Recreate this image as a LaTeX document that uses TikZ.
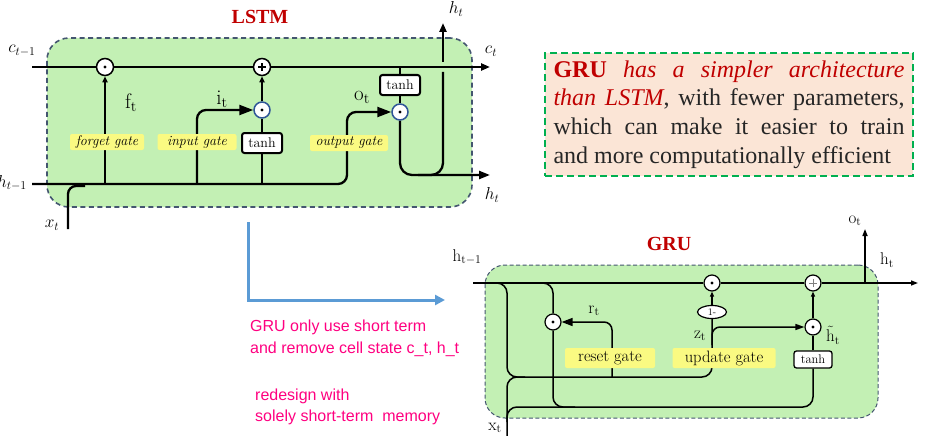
\documentclass[tikz,border=0pt]{standalone}
\usepackage{fontspec}
\newfontfamily\timesfont{Liberation Serif}
\newfontfamily\arialfont{Liberation Sans}
\usetikzlibrary{arrows.meta,shapes.geometric}
\definecolor{cellgreen}{RGB}{195,240,180}
\definecolor{boxblue}{RGB}{68,86,112}
\definecolor{circblue}{RGB}{47,85,151}
\definecolor{gateyellow}{RGB}{250,250,130}
\definecolor{titlered}{RGB}{192,0,0}
\definecolor{boxgreen}{RGB}{0,176,80}
\definecolor{peach}{RGB}{251,229,214}
\definecolor{textdark}{RGB}{38,38,38}
\definecolor{arrowblue}{RGB}{91,155,213}
\definecolor{pinktext}{RGB}{255,0,128}
\begin{document}
\begin{tikzpicture}[x=1pt,y=-1pt,
  lstmline/.style={line width=2.3pt,black,line join=round},
  gruline/.style={line width=1.5pt,black,line join=round},
  cellbox/.style={draw=boxblue,fill=cellgreen,rounded corners=22pt,inner sep=0pt},
  dotcirc/.style={circle,draw,fill=white,inner sep=0pt,minimum size=#1,
    path picture={\fill[black] (path picture bounding box.center) circle[radius=1.6pt];}},
  pluscirc/.style={circle,draw,fill=white,inner sep=0pt,minimum size=#1,
    path picture={\draw[black,line width=1.2pt]
      ([xshift=-4pt]path picture bounding box.center) -- ([xshift=4pt]path picture bounding box.center)
      ([yshift=-4pt]path picture bounding box.center) -- ([yshift=4pt]path picture bounding box.center);}},
  gpluscirc/.style={circle,draw,fill=white,inner sep=0pt,minimum size=#1,
    path picture={\draw[line width=0.8pt,gray]
      ([xshift=-4pt]path picture bounding box.center) -- ([xshift=4pt]path picture bounding box.center)
      ([yshift=-4pt]path picture bounding box.center) -- ([yshift=4pt]path picture bounding box.center);}},
  tanhbox/.style={draw,fill=white,rounded corners=2.5pt,line width=2pt,inner sep=0pt,
    minimum width=40pt,minimum height=20pt,font=\fontsize{14}{15}\selectfont},
  gtanhbox/.style={draw,fill=white,rounded corners=2.5pt,line width=1.3pt,inner sep=0pt,
    minimum width=38pt,minimum height=17pt,font=\fontsize{12.5}{13}\selectfont},
  ygate/.style={fill=gateyellow,rounded corners=2pt,inner sep=0pt,minimum height=16pt,
    font=\itshape\fontsize{14}{15}\selectfont},
  gygate/.style={fill=gateyellow,rounded corners=2pt,inner sep=0pt,minimum height=20pt,
    font=\fontsize{16.5}{17}\selectfont},
  mlab/.style={inner sep=0pt,font=\fontsize{17.5}{18}\selectfont},
  glab/.style={inner sep=0pt,font=\fontsize{17}{17}\selectfont},
  pink/.style={anchor=base west,inner sep=0pt,text=pinktext,font=\arialfont\fontsize{16}{20}\selectfont}
]
\useasboundingbox (0,0) rectangle (934,436);

% ================= LSTM =================
\node[cellbox,line width=1.6pt,dash pattern=on 5pt off 3.5pt,minimum width=425pt,minimum height=169pt] (lstmcell) at (259.5,122.5) {};
\node[inner sep=0pt,text=titlered,font=\timesfont\bfseries\fontsize{20}{20}\selectfont] (lstmtitle) at (260,16.5) {LSTM};

\node[dotcirc=17pt,line width=1.5pt] (fcirc) at (105,67) {};
\node[pluscirc=17pt,line width=1.5pt] (pcirc) at (262,67) {};
\node[dotcirc=16pt,draw=circblue,line width=1.5pt] (icirc) at (262,110) {};
\node[dotcirc=16pt,draw=circblue,line width=1.5pt] (ocirc) at (400,112) {};
\node[tanhbox] (tanha) at (262,143) {tanh};
\node[tanhbox] (tanhb) at (400,85) {tanh};

\coordinate (cin) at (32,67);
\coordinate (cout) at (490,67);
\coordinate (hin) at (32,184);
\coordinate (hout) at (490,175);
\coordinate (htop) at (443,23);
\coordinate (xin) at (68,229);
\coordinate (cbranch) at (400,67);

\draw[lstmline] (cin) -- (fcirc.west);
\draw[lstmline] (fcirc.east) -- (pcirc.west);
\draw[lstmline,-{Triangle[length=9pt,width=7pt]}] (pcirc.east) -- (cout);
\draw[lstmline,rounded corners=9pt,-{Triangle[length=14pt,width=10pt]}] (hin) -- (347,184) -- (347,112) -- (ocirc.west);
\draw[lstmline,-{Triangle[length=6pt,width=5pt]}] (105,184) -- (fcirc.south);
\draw[lstmline,rounded corners=9pt,-{Triangle[length=14pt,width=10pt]}] (197,184) -- (197,110) -- (icirc.west);
\draw[lstmline] (262,184) -- (tanha.south);
\draw[lstmline] (tanha.north) -- (icirc.south);
\draw[lstmline,-{Triangle[length=6pt,width=5pt]}] (icirc.north) -- (pcirc.south);
\draw[lstmline] (cbranch) -- (tanhb.north);
\draw[lstmline] (tanhb.south) -- (ocirc.north);
\draw[lstmline,rounded corners=12pt,-{Triangle[length=11pt,width=8pt]}] (ocirc.south) |- (hout);
\draw[lstmline,rounded corners=12pt] (418,175) -| (443,72);
\draw[lstmline,-{Triangle[length=9pt,width=7pt]}] (443,62) -- (htop);
\draw[lstmline,rounded corners=8pt] (xin) |- (85,186);

\node[ygate,minimum width=74pt] (forget) at (107,142) {forget gate};
\node[ygate,minimum width=79pt] (input) at (197,142) {input gate};
\node[ygate,minimum width=78pt] (output) at (349,143) {output gate};

\node[mlab] (lcprev) at (22,51) {$c_{t-1}$};
\node[mlab] (lcnext) at (491,51) {$c_t$};
\node[mlab] (lhtop) at (456,9) {$h_t$};
\node[mlab] (lhright) at (492,195) {$h_t$};
\node[mlab,anchor=east] (lhprev) at (27,183) {$h_{t-1}$};
\node[mlab] (lx) at (52,225) {$x_t$};
\node[mlab,font=\fontsize{21}{21}\selectfont] (lf) at (131,103) {$\mathrm{f}_\mathrm{t}$};
\node[mlab,font=\fontsize{21}{21}\selectfont] (li) at (222,99) {$\mathrm{i}_\mathrm{t}$};
\node[mlab,font=\fontsize{21}{21}\selectfont] (lo) at (362,97) {$\mathrm{o}_\mathrm{t}$};

% ================= info box =================
\node[draw=boxgreen,line width=2pt,dash pattern=on 7pt off 4pt,fill=peach,anchor=north west,
  inner xsep=8.5pt,inner ysep=7.5pt,text width=351pt,align=justify,
  font=\timesfont\fontsize{24}{28.7}\selectfont,text=textdark] (gruinfo) at (544,52)
  {{\color{titlered}\bfseries GRU} {\color{titlered}\itshape has a simpler architecture\linebreak
   than LSTM}, with fewer parameters,\linebreak
   which can make it easier to train\linebreak
   and more computationally efficient};

% ================= transition arrow and notes =================
\coordinate (bstart) at (248,222);
\coordinate (bend) at (445,300);
\draw[arrowblue,line width=3pt,-{Triangle[length=10pt,width=10pt]}] (bstart) |- (bend);
\node[pink] (p1) at (250,331) {GRU only use short term};
\node[pink] (p2) at (250,353) {and remove cell state c\_t, h\_t};
\node[pink] (p3) at (255,400) {redesign with};
\node[pink] (p4) at (255,421) {solely short-term\ \ memory};

% ================= GRU =================
\node[cellbox,line width=1pt,dash pattern=on 4pt off 2.5pt,rounded corners=20pt,minimum width=393pt,minimum height=153pt] (grucell) at (681.5,341.5) {};
\node[inner sep=0pt,text=titlered,font=\timesfont\bfseries\fontsize{20}{20}\selectfont] (grutitle) at (669,243.5) {GRU};

\node[dotcirc=16pt,line width=1.2pt] (gza) at (712,283) {};
\node[gpluscirc=16pt,line width=1.2pt] (gpl) at (813,283) {};
\node[dotcirc=16pt,line width=1.2pt] (grs) at (553,322) {};
\node[dotcirc=16pt,line width=1.2pt] (ghc) at (813,327) {};
\node[ellipse,draw,fill=white,line width=1.2pt,inner sep=0pt,minimum width=29pt,minimum height=13pt,
  font=\fontsize{10}{10}\selectfont] (one) at (712,312) {1-};
\node[gtanhbox] (tanhc) at (813,359.5) {tanh};

\coordinate (gin) at (473,283);
\coordinate (gout) at (918,283);
\coordinate (got) at (865,229);
\coordinate (gx) at (507,436);

\draw[gruline] (gin) -- (gza.west);
\draw[gruline] (gza.east) -- (gpl.west);
\draw[gruline,-{Triangle[length=7pt,width=5pt]}] (gpl.east) -- (gout);
\draw[gruline,-{Triangle[length=7pt,width=5pt]}] (865,283) -- (got);
\draw[gruline,rounded corners=10pt] (488,283) -| (507,377) -| (one.south);
\draw[gruline,rounded corners=10pt] (gx) |- (525,377);
\draw[gruline,rounded corners=10pt] (507,422) |- (813,407) -- (tanhc.south);
\draw[gruline,rounded corners=10pt] (538,283) -| (grs.north);
\draw[gruline,rounded corners=10pt] (grs.south) |- (575,407);
\draw[gruline,rounded corners=8pt,-{Triangle[length=11pt,width=8pt]}] (612,377) |- (grs.east);
\draw[gruline,rounded corners=8pt,-{Triangle[length=9pt,width=6pt]}] (712,345) |- (ghc.west);
\draw[gruline,-{Triangle[length=5pt,width=4pt]}] (one.north) -- (gza.south);
\draw[gruline] (tanhc.north) -- (ghc.south);
\draw[gruline,-{Triangle[length=5pt,width=4pt]}] (ghc.north) -- (gpl.south);

\node[gygate,minimum width=90pt] (reset) at (610,358) {reset gate};
\node[gygate,minimum width=103pt] (update) at (724,358) {update gate};

\node[glab] (ghprev) at (467,257) {$\mathrm{h}_{\mathrm{t-1}}$};
\node[glab] (gr) at (594,311) {$\mathrm{r}_\mathrm{t}$};
\node[glab] (gz) at (700,336) {$\mathrm{z}_\mathrm{t}$};
\node[glab] (ghtil) at (833,335) {$\tilde{\mathrm{h}}_\mathrm{t}$};
\node[glab] (go) at (855,221) {$\mathrm{o}_\mathrm{t}$};
\node[glab] (gh) at (887,260) {$\mathrm{h}_\mathrm{t}$};
\node[glab] (gxl) at (495,428) {$\mathrm{x}_\mathrm{t}$};
\end{tikzpicture}
\end{document}
